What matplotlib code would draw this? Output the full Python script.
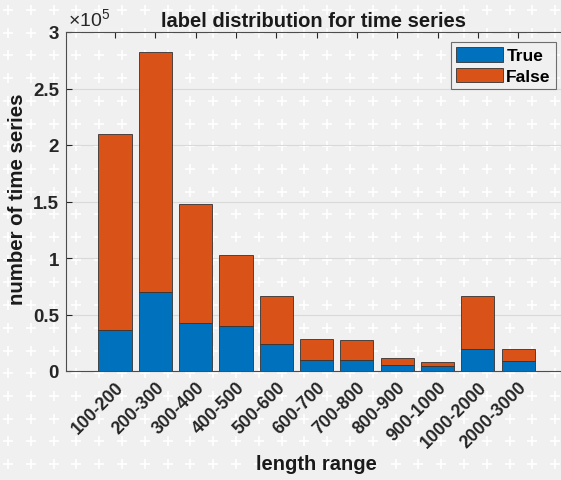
import numpy as np
import matplotlib
matplotlib.use("Agg")
import matplotlib.pyplot as plt
import matplotlib.transforms as mtransforms

plt.rcParams['font.family'] = ['Liberation Sans', 'DejaVu Sans']
plt.rcParams['font.weight'] = 'bold'

ranges = ['100-200', '200-300', '300-400', '400-500', '500-600', '600-700',
          '700-800', '800-900', '900-1000', '1000-2000', '2000-3000']
n_true = [0.36, 0.70, 0.425, 0.40, 0.24, 0.10, 0.097, 0.05, 0.04, 0.197, 0.086]
n_total = [2.10, 2.82, 1.475, 1.025, 0.665, 0.283, 0.277, 0.115, 0.08, 0.665, 0.192]
scale = 1e5

true_vals = np.array(n_true) * scale
false_vals = (np.array(n_total) - np.array(n_true)) * scale

bg = '#f0f0f0'
fig = plt.figure(figsize=(5.61, 4.81), dpi=100, facecolor=bg)

# background plus pattern
bgax = fig.add_axes([0, 0, 1, 1], zorder=-10)
bgax.set_facecolor(bg)
gx, gy = np.meshgrid(np.arange(8, 561, 22.8), np.arange(11, 481, 22.7))
bgax.scatter(gx.ravel(), gy.ravel(), marker='+', s=60, c='white', linewidths=1.2)
bgax.set_xlim(0, 561)
bgax.set_ylim(481, 0)
bgax.axis('off')

ax = fig.add_axes([66/561, 1-372/481, 1-66/561, (372-33)/481])
ax.set_facecolor('none')
x = np.arange(len(ranges))
ax.bar(x, true_vals, width=0.82, color='#0072BD', edgecolor='#333333', linewidth=0.6, label='True', zorder=3)
ax.bar(x, false_vals, width=0.82, bottom=true_vals, color='#D95319', edgecolor='#333333', linewidth=0.6, label='False', zorder=3)

ax.set_xlim(-1.215, 11.06)
ax.set_ylim(0, 3e5)
ax.set_yticks(np.arange(0, 3.01, 0.5) * scale)
ax.set_yticklabels(['0', '0.5', '1', '1.5', '2', '2.5', '3'])
ax.set_xticks(x)
ax.set_xticklabels(ranges, rotation=45, ha='right', rotation_mode='anchor')
shift = mtransforms.ScaledTranslation(8/100, 0, fig.dpi_scale_trans)
for lbl in ax.get_xticklabels():
    lbl.set_transform(lbl.get_transform() + shift)
ax.tick_params(direction='in', top=True, length=4, width=0.8, colors='#262626')
ax.tick_params(axis='x', pad=5, labelsize=12.8)
ax.tick_params(axis='y', pad=5, labelsize=13.5)
ax.yaxis.grid(True, color='#d9d9d9', linewidth=0.8, zorder=0)
ax.set_axisbelow(True)
for s in ['left', 'bottom', 'top']:
    ax.spines[s].set_color('#4d4d4d')
    ax.spines[s].set_linewidth(0.8)
ax.spines['right'].set_visible(False)

ax.text(0.004, 1.008, r'$\mathregular{\times10^5}$', transform=ax.transAxes, fontsize=14,
        fontweight='normal', color='#262626', va='bottom', ha='left')
ax.set_title('label distribution for time series', fontsize=14.5, fontweight='bold', color='#1a1a1a', pad=4)
ax.set_xlabel('length range', fontsize=14.5, fontweight='bold', color='#1a1a1a')
ax.set_ylabel('number of time series', fontsize=14.7, fontweight='bold', color='#1a1a1a')
ax.xaxis.set_label_coords((316 - 66) / (561 - 66), -(455 - 372) / (372 - 33))
ax.yaxis.set_label_coords(-(66 - 27) / (561 - 66), (372 - 199) / (372 - 33))

leg = ax.legend(loc='upper right', bbox_to_anchor=(556/561, 1-43/481), bbox_transform=fig.transFigure,
                fontsize=12.5, frameon=True, fancybox=False, edgecolor='#4d4d4d', facecolor=bg,
                handlelength=2.7, handleheight=0.9, handletextpad=0.2, borderpad=0.3, labelspacing=0.25,
                borderaxespad=0)
leg.get_frame().set_linewidth(0.8)

fig.savefig('out.png', dpi=100, facecolor=bg)
